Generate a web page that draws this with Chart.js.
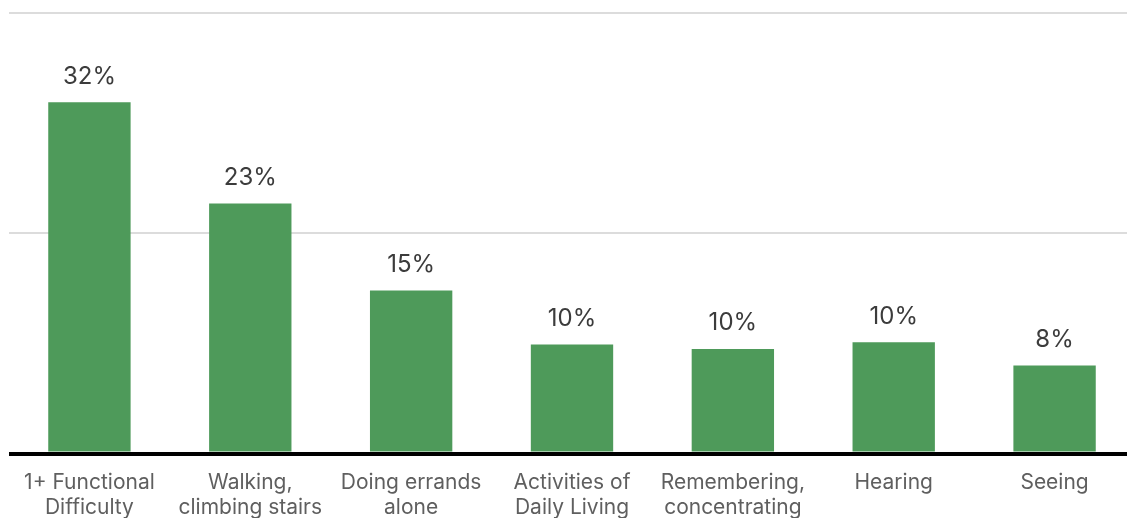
<!DOCTYPE html>
<html>
<head>
<meta charset="utf-8">
<script src="https://cdn.jsdelivr.net/npm/chart.js@4"></script>
<style>
  html, body { margin: 0; padding: 0; background: #ffffff; overflow: hidden; }
  #wrap { position: relative; width: 1136px; height: 518px; }
</style>
</head>
<body>
<div id="wrap"><canvas id="chart"></canvas></div>
<script>
// Share of adults reporting each type of functional difficulty (%)
const categories = [
  ['1+ Functional', 'Difficulty'],
  ['Walking,', 'climbing stairs'],
  ['Doing errands', 'alone'],
  ['Activities of', 'Daily Living'],
  ['Remembering,', 'concentrating'],
  ['Hearing'],
  ['Seeing']
];
const percentValues = [31.9, 22.7, 14.8, 9.9, 9.5, 10.1, 8.0];
const yTicks = [0, 20, 40];

const FONT = 'Inter, "Noto Sans", sans-serif';

// Writes the rounded percentage above each bar
const valueLabels = {
  id: 'valueLabels',
  afterDatasetsDraw(chart) {
    const ctx = chart.ctx;
    const meta = chart.getDatasetMeta(0);
    const data = chart.data.datasets[0].data;
    ctx.save();
    ctx.font = '24px ' + FONT;
    ctx.fillStyle = '#3c3c3c';
    ctx.textAlign = 'center';
    ctx.textBaseline = 'alphabetic';
    meta.data.forEach((bar, i) => {
      ctx.fillText(Math.round(data[i]) + '%', bar.x, bar.y - 18.5);
    });
    ctx.restore();
  }
};

new Chart(document.getElementById('chart'), {
  type: 'bar',
  data: {
    labels: categories,
    datasets: [{
      data: percentValues,
      backgroundColor: '#4e9a5a',
      borderWidth: 0,
      categoryPercentage: 1,
      barPercentage: 0.512
    }]
  },
  options: {
    responsive: true,
    maintainAspectRatio: false,
    animation: false,
    layout: { padding: { left: 9, right: 1, top: 13, bottom: 0 } },
    plugins: {
      legend: { display: false },
      tooltip: { enabled: false }
    },
    scales: {
      x: {
        grid: { display: false, drawTicks: false },
        border: { display: false },
        afterFit(scale) { scale.height = 64.5; },
        ticks: {
          padding: 17,
          color: '#5f5f5f',
          font: { family: FONT, size: 21, lineHeight: 1.19 },
          maxRotation: 0,
          autoSkip: false
        }
      },
      y: {
        min: yTicks[0],
        max: yTicks[yTicks.length - 1],
        afterBuildTicks(scale) {
          scale.ticks = yTicks.map(v => ({ value: v }));
        },
        ticks: { display: false },
        border: { display: false },
        grid: {
          drawTicks: false,
          color: c => (c.tick && c.tick.value === 0 ? '#000000' : '#dcdcdc'),
          lineWidth: c => (c.tick && c.tick.value === 0 ? 4 : 2)
        }
      }
    }
  },
  plugins: [valueLabels]
});
</script>
</body>
</html>
